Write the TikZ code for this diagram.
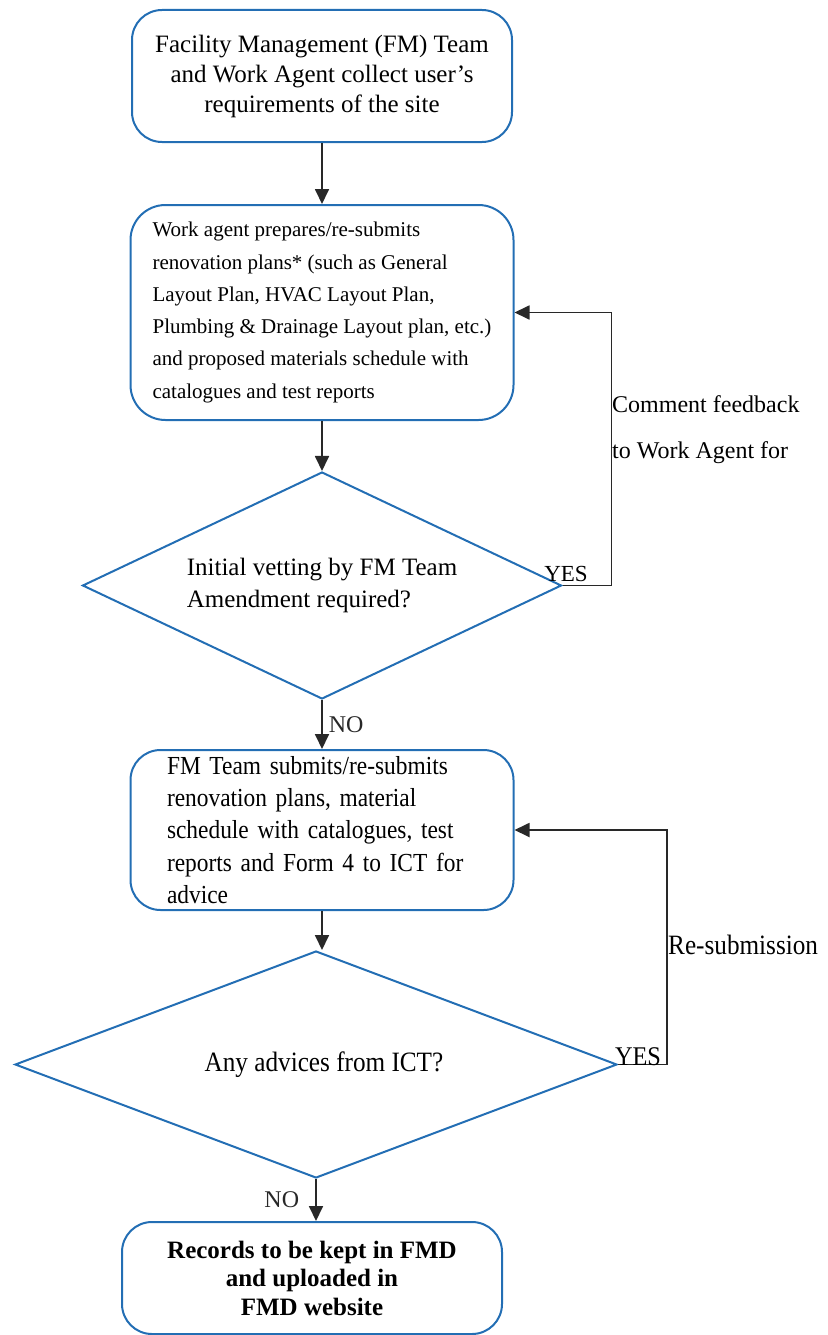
\documentclass[tikz,border=0pt]{standalone}
\usepackage{fontspec}
\setmainfont{Liberation Serif}
\newfontfamily\narrowserif{Liberation Serif}[FakeStretch=0.9]
\usepackage{tikz}
\usetikzlibrary{shapes.geometric, arrows.meta, positioning}
\definecolor{boxline}{RGB}{35,110,180}
\definecolor{flowline}{RGB}{40,40,40}

\begin{document}
\begin{tikzpicture}[x=1pt, y=-1pt,
  box/.style={rectangle, draw=boxline, line width=2pt, rounded corners=30pt, minimum width=380pt, inner sep=0pt},
  decision/.style={diamond, draw=boxline, line width=2pt, aspect=2.1, inner sep=0pt},
  arrow/.style={-{Triangle[length=15pt, width=14pt]}, line width=1.8pt, flowline},
  lbl/.style={inner sep=0pt, font=\fontsize{24}{28}\selectfont},
]
\useasboundingbox (0,0) rectangle (827,1335);

\node[box, minimum height=132pt, align=center, font=\fontsize{25}{30}\selectfont] (collect) at (322,76)
  {Facility Management (FM) Team\\and Work Agent collect user's\\requirements of the site};
\node[box, below=61pt of collect, minimum width=383pt, minimum height=215pt, rounded corners=35pt,
  align=left, font=\fontsize{21}{32.3}\selectfont] (prepare)
  {Work agent prepares/re-submits\\renovation plans* (such as General\\Layout Plan, HVAC Layout Plan,\\Plumbing \& Drainage Layout plan, etc.)\\and proposed materials schedule with\\catalogues and test reports};
\node[decision, below=50pt of prepare, minimum width=479pt, minimum height=227pt,
  align=left, font=\fontsize{25}{32}\selectfont] (vetting)
  {Initial vetting by FM Team\\Amendment required?};
\node[box, below=49pt of vetting, minimum width=383pt, minimum height=160pt,
  text width=310pt, align=left, font=\narrowserif\fontsize{26}{32.3}\selectfont] (submit)
  {FM Team submits/re-submits\\renovation plans, material\\schedule with catalogues, test\\reports and Form 4 to ICT for\\advice};
\node[decision, below=39pt of submit, xshift=-6pt, minimum width=602pt, minimum height=227pt,
  font=\narrowserif\fontsize{28}{32}\selectfont] (advice) {\hspace*{16pt}Any advices from ICT?};
\node[box, below=42pt of advice, xshift=-4pt, minimum height=112pt, align=center,
  font=\bfseries\fontsize{25}{28.5}\selectfont] (records)
  {Records to be kept in FMD\\and uploaded in\\FMD website};

% main flow
\draw[arrow] (collect) -- (prepare);
\draw[arrow] (prepare) -- (vetting);
\draw[arrow] (vetting) -- node[lbl, right=6pt] (no1) {NO} (submit);
\draw[arrow] (submit.south) -- (submit.south |- advice.north);
\draw[arrow] (advice.south) -- node[lbl, left=16pt] (no2) {NO} (advice.south |- records.north);

% loops back
\draw[arrow] (vetting.east) -- ++(49,0) |- (prepare.east);
\draw[arrow] (advice.east) -- ++(49,0) |- (submit.east);

\node[lbl, font=\fontsize{23}{28}\selectfont] (yes1) at (566,574) {YES};
\node[lbl, font=\narrowserif\fontsize{27}{28}\selectfont] (yes2) at (638,1057) {YES};
\node[lbl, anchor=west, align=left, font=\fontsize{24}{46}\selectfont] (feedback) at (612,430)
  {Comment feedback\\to Work Agent for};
\node[lbl, anchor=west, font=\narrowserif\fontsize{28}{30}\selectfont] (resubmit) at (668,945) {Re-submission};
\end{tikzpicture}
\end{document}
